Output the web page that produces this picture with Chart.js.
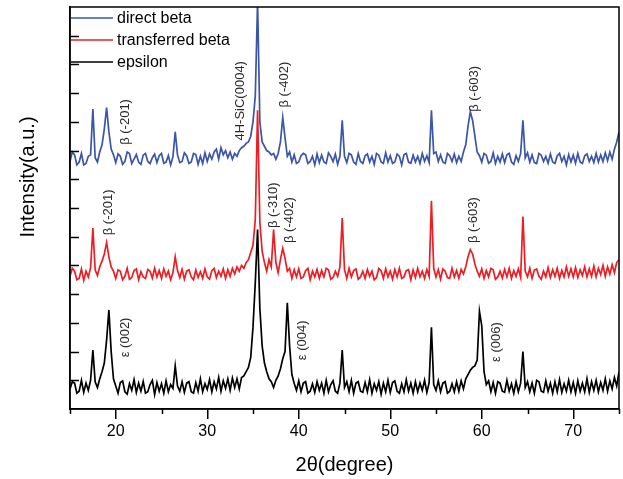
<!DOCTYPE html>
<html>
<head>
<meta charset="utf-8">
<script src="https://cdn.jsdelivr.net/npm/chart.js@4/dist/chart.umd.min.js"></script>
<style>
  html, body { margin: 0; padding: 0; background: #fff; }
  #xrd { display: block; }
</style>
</head>
<body>
<canvas id="xrd" width="623" height="479"></canvas>
<script>
// 2theta grid: 15 .. 75 deg, one reading every 0.25 deg
const startAngle = 15
const angleStep = 0.25

// intensities (a.u., curves already offset)
const directBeta = [
  8.62, 8.95, 8.85, 8.5, 8.6, 8.9, 8.5, 8.55, 8.8, 8.85,
  10.45, 8.75, 8.6, 8.95, 9.2, 9.75, 10.5, 9.65, 9.05, 8.85,
  8.58, 8.88, 8.8, 8.52, 8.62, 8.95, 8.9, 8.55, 8.7, 8.86,
  8.6, 8.52, 8.84, 8.9, 8.62, 8.55, 8.75, 8.88, 8.58, 8.82,
  8.9, 8.56, 8.6, 8.83, 8.5, 8.78, 9.65, 8.85, 8.58, 8.62,
  8.92, 8.82, 8.55, 8.6, 8.9, 8.86, 8.52, 8.8, 8.55, 8.92,
  8.62, 8.88, 8.7, 8.95, 9.05, 8.7, 9.1, 8.85, 9.0, 8.75,
  8.95, 8.7, 8.9, 8.8, 9.0, 9.1, 9.15, 9.25, 9.3, 9.5,
  10.0, 10.9, 14.2, 10.0, 9.3, 9.15, 9.0, 8.95, 8.85, 8.9,
  8.7, 8.9, 9.3, 10.15, 9.45, 8.8, 8.95, 8.6, 8.85, 8.55,
  8.6, 8.82, 8.9, 8.85, 8.55, 8.62, 8.8, 8.5, 8.88, 8.58,
  8.84, 8.6, 8.55, 8.92, 8.8, 8.62, 8.88, 8.52, 8.8, 10.05,
  8.8, 8.58, 8.9, 8.85, 8.6, 8.52, 8.9, 8.62, 8.55, 8.82,
  8.88, 8.6, 8.8, 8.52, 8.9, 8.84, 8.6, 8.55, 8.92, 8.6,
  8.82, 8.55, 8.6, 8.88, 8.8, 8.5, 8.86, 8.9, 8.6, 8.56,
  8.84, 8.6, 8.8, 8.55, 8.9, 8.62, 8.82, 8.58, 10.4, 8.9,
  8.95, 8.62, 8.85, 8.6, 8.55, 8.9, 8.82, 8.62, 8.88, 8.58,
  8.8, 8.62, 8.95, 9.2, 9.85, 10.35, 10.05, 9.5, 8.95, 8.82,
  8.6, 8.9, 8.84, 8.56, 8.62, 8.92, 8.55, 8.8, 8.6, 8.88,
  8.58, 8.85, 8.9, 8.6, 8.52, 8.82, 8.62, 8.9, 10.05, 8.75,
  8.92, 8.6, 8.85, 8.58, 8.55, 8.9, 8.84, 8.62, 8.8, 8.56,
  8.88, 8.6, 8.55, 8.82, 8.9, 8.62, 8.8, 8.5, 8.86, 8.6,
  8.84, 8.56, 8.9, 8.6, 8.55, 8.82, 8.88, 8.62, 8.8, 8.58,
  8.9, 8.6, 8.85, 8.62, 8.92, 8.65, 8.95, 8.7, 9.05, 9.3,
  9.65
]

const transferredBeta = [
  4.62, 4.9, 4.8, 4.5, 4.55, 4.88, 4.48, 4.8, 4.6, 4.92,
  6.3, 4.85, 4.65, 4.95, 5.15, 5.4, 5.8, 5.3, 4.95, 4.8,
  4.55, 4.85, 4.8, 4.5, 4.62, 4.9, 4.52, 4.58, 4.82, 4.88,
  4.5, 4.78, 4.6, 4.55, 4.86, 4.8, 4.56, 4.9, 4.6, 4.82,
  4.55, 4.88, 4.62, 4.8, 4.5, 4.75, 5.3, 4.82, 4.58, 4.86,
  4.52, 4.8, 4.85, 4.6, 4.5, 4.84, 4.58, 4.78, 4.55, 4.88,
  4.6, 4.52, 4.82, 4.9, 4.58, 4.8, 4.62, 4.88, 4.55, 4.85,
  4.62, 4.9, 4.7, 4.95, 4.8, 5.0, 4.9, 5.1, 5.2, 5.45,
  5.7, 6.6, 10.4, 6.5, 5.5, 5.1, 4.8, 5.2, 4.95, 6.25,
  5.1, 4.75, 5.2, 5.6, 5.25, 4.8, 4.9, 4.55, 4.85, 4.6,
  4.88, 4.55, 4.6, 4.82, 4.9, 4.5, 4.8, 4.6, 4.86, 4.55,
  4.82, 4.6, 4.9, 4.85, 4.52, 4.58, 4.8, 4.62, 4.95, 6.65,
  4.85, 4.55, 4.9, 4.6, 4.82, 4.88, 4.52, 4.6, 4.8, 4.55,
  4.86, 4.62, 4.8, 4.5, 4.58, 4.9, 4.82, 4.55, 4.88, 4.6,
  4.8, 4.52, 4.86, 4.6, 4.9, 4.55, 4.6, 4.82, 4.85, 4.5,
  4.84, 4.58, 4.9, 4.6, 4.8, 4.55, 4.86, 4.62, 7.25, 4.9,
  4.6, 4.85, 4.52, 4.88, 4.8, 4.58, 4.55, 4.9, 4.6, 4.82,
  4.55, 4.86, 4.7, 4.95, 5.3, 5.55, 5.4, 5.05, 4.8, 4.62,
  4.88, 4.55, 4.82, 4.6, 4.9, 4.85, 4.52, 4.6, 4.8, 4.56,
  4.86, 4.6, 4.9, 4.55, 4.82, 4.62, 4.88, 4.58, 6.7, 4.8,
  4.6, 4.9, 4.55, 4.84, 4.88, 4.62, 4.52, 4.8, 4.6, 4.92,
  4.58, 4.85, 4.62, 4.9, 4.55, 4.82, 4.6, 4.95, 4.62, 4.88,
  4.6, 4.92, 4.58, 4.85, 4.65, 4.95, 4.6, 4.88, 4.62, 4.98,
  4.6, 4.9, 4.68, 5.0, 4.62, 4.95, 4.7, 5.02, 4.75, 5.1,
  5.2
]

const epsilon = [
  0.7, 0.95, 0.9, 0.55, 0.62, 1.0, 0.58, 0.9, 0.65, 1.0,
  2.05, 0.95, 0.75, 1.05, 1.3, 1.6, 2.4, 3.45, 2.0, 1.05,
  0.8, 0.55, 0.92, 0.98, 0.6, 0.52, 0.88, 0.65, 1.02, 0.58,
  0.9, 0.62, 0.96, 0.55, 0.6, 0.85, 1.0, 0.5, 0.92, 0.62,
  0.88, 0.55, 0.98, 0.6, 0.85, 0.72, 1.5, 0.8, 0.62, 0.95,
  0.58, 0.9, 0.95, 0.6, 0.55, 0.92, 0.62, 1.05, 0.6, 0.88,
  0.68, 1.02, 0.6, 0.95, 0.7, 1.1, 0.62, 0.98, 0.72, 1.05,
  0.65, 1.08, 0.75, 1.05, 0.7, 1.1, 1.15, 1.3, 1.45, 1.8,
  2.85, 4.4, 6.25, 3.5, 2.2, 1.6, 1.3, 1.05, 0.95, 0.75,
  1.0, 1.15, 1.4, 1.75, 2.0, 3.7, 2.2, 1.2, 0.9, 0.65,
  0.98, 0.6, 0.9, 0.95, 0.55, 0.62, 0.88, 0.58, 0.95, 0.65,
  0.9, 0.55, 1.0, 0.6, 0.85, 0.98, 0.62, 0.55, 0.9, 2.05,
  0.75, 0.95, 0.6, 1.0, 0.55, 0.9, 0.95, 0.62, 0.58, 0.92,
  0.6, 1.02, 0.55, 0.88, 0.65, 0.95, 0.52, 0.9, 0.6, 1.0,
  0.58, 0.92, 0.98, 0.62, 0.55, 0.88, 0.6, 1.02, 0.62, 0.9,
  0.55, 0.95, 0.6, 0.9, 0.65, 1.0, 0.58, 0.92, 2.85, 0.85,
  0.65, 0.98, 0.6, 0.9, 0.95, 0.55, 0.62, 0.88, 0.6, 0.95,
  0.62, 0.98, 0.7, 1.05, 1.2, 1.35, 1.45, 1.5, 1.7, 3.4,
  2.9, 1.3, 0.85, 0.98, 0.6, 0.92, 0.55, 0.95, 0.9, 0.62,
  0.58, 1.0, 0.62, 0.88, 0.55, 0.95, 0.6, 0.9, 2.0, 0.75,
  0.95, 0.6, 0.9, 0.55, 1.0, 0.95, 0.62, 0.58, 0.98, 0.62,
  0.9, 0.55, 0.95, 0.6, 1.02, 0.58, 0.88, 0.62, 1.0, 0.6,
  0.92, 0.55, 0.98, 0.62, 0.9, 0.6, 1.05, 0.58, 0.95, 0.65,
  1.0, 0.6, 0.92, 0.65, 1.05, 0.62, 0.98, 0.7, 1.1, 0.8,
  1.3
]

const seriesNames = ['direct beta', 'transferred beta', 'epsilon']
const seriesColors = ['#3b55a8', '#ee1d24', '#000000']

const xTickLabels = [20, 30, 40, 50, 60, 70]
const xMinorTicks = [15, 25, 35, 45, 55, 65, 75]
const yTickMarks = [1, 2, 3, 4, 5, 6, 7, 8, 9, 10, 11, 12, 13]

// peak labels: [text, 2theta, intensity where the text starts]
const peakLabels = [
  ['β (-201)', 21.1, 9.2],
  ['4H-SiC(0004)', 33.6, 9.35],
  ['β (-402)', 38.4, 10.5],
  ['β (-603)', 59.15, 10.35],
  ['β (-201)', 19.15, 6.05],
  ['β (-310)', 37.2, 6.3],
  ['β (-402)', 39.0, 5.78],
  ['β (-603)', 59.05, 5.78],
  ['ε (002)', 21.1, 1.8],
  ['ε (004)', 40.45, 1.7],
  ['ε (006)', 61.55, 1.64]
]

const FONT = '"Liberation Sans", Arial, sans-serif'

const toPoints = (vals) => vals.map((v, i) => ({ x: startAngle + i * angleStep, y: v }))

const frameAndMarks = {
  id: 'frameAndMarks',
  afterDatasetsDraw(chart) {
    const ctx = chart.ctx
    const a = chart.chartArea
    const xs = chart.scales.x
    const ys = chart.scales.y
    ctx.save()

    // peak labels, rotated
    ctx.fillStyle = '#2a2a2a'
    ctx.font = '13px ' + FONT
    ctx.textAlign = 'left'
    ctx.textBaseline = 'middle'
    peakLabels.forEach(([txt, deg, val]) => {
      ctx.save()
      ctx.translate(xs.getPixelForValue(deg), ys.getPixelForValue(val))
      ctx.rotate(-Math.PI / 2)
      ctx.fillText(txt, 0, 0)
      ctx.restore()
    })

    // box
    ctx.strokeStyle = '#000'
    ctx.lineWidth = 1.5
    ctx.strokeRect(a.left, a.top, a.right - a.left, a.bottom - a.top)

    // inward y ticks
    ctx.beginPath()
    yTickMarks.forEach(v => {
      const y = Math.round(ys.getPixelForValue(v)) + 0.5
      ctx.moveTo(a.left, y)
      ctx.lineTo(a.left + 9, y)
    })
    // short x ticks
    xMinorTicks.forEach(v => {
      const x = Math.round(xs.getPixelForValue(v)) + 0.5
      ctx.moveTo(x, a.bottom)
      ctx.lineTo(x, a.bottom + 5)
    })
    ctx.stroke()

    // legend
    chart.data.datasets.forEach((ds, i) => {
      const y = 18 + i * 22
      ctx.strokeStyle = ds.borderColor
      ctx.lineWidth = 1.5
      ctx.beginPath()
      ctx.moveTo(a.left + 1, y)
      ctx.lineTo(113, y)
      ctx.stroke()
      ctx.fillStyle = '#000'
      ctx.font = '16px ' + FONT
      ctx.textAlign = 'left'
      ctx.textBaseline = 'middle'
      ctx.fillText(ds.label, 117, y + 1)
    })

    // y title
    ctx.save()
    ctx.translate(28, 177)
    ctx.rotate(-Math.PI / 2)
    ctx.fillStyle = '#000'
    ctx.font = '20px ' + FONT
    ctx.textAlign = 'center'
    ctx.textBaseline = 'middle'
    ctx.fillText('Intensity(a.u.)', 0, 0)
    ctx.restore()

    ctx.restore()
  }
}

const seriesValues = [directBeta, transferredBeta, epsilon]

const xrdChart = new Chart(document.getElementById('xrd'), {
  type: 'line',
  data: {
    datasets: seriesValues.map((vals, i) => ({
      label: seriesNames[i],
      data: toPoints(vals),
      borderColor: seriesColors[i],
      borderWidth: 1.7,
      pointRadius: 0,
      tension: 0,
      fill: false,
      order: 3 - i
    }))
  },
  options: {
    responsive: false,
    animation: false,
    devicePixelRatio: 1,
    layout: { padding: { top: 7, right: 4, left: 0, bottom: 0 } },
    plugins: {
      legend: { display: false },
      tooltip: { enabled: false }
    },
    scales: {
      x: {
        type: 'linear',
        min: 15,
        max: 75,
        afterBuildTicks: (s) => { s.ticks = xTickLabels.map(v => ({ value: v })) },
        afterFit: (s) => { s.height = 70 },
        ticks: {
          color: '#000',
          font: { family: FONT, size: 16 },
          padding: 3,
          maxRotation: 0,
          autoSkip: false
        },
        grid: {
          display: true,
          drawOnChartArea: false,
          drawTicks: true,
          tickLength: 10,
          color: '#000',
          lineWidth: 1.5
        },
        border: { display: true, color: '#000', width: 1.5 },
        title: {
          display: true,
          text: '2θ(degree)',
          color: '#000',
          font: { family: FONT, size: 20 },
          padding: { top: 0, bottom: 2 }
        }
      },
      y: {
        type: 'linear',
        min: 0,
        max: 14,
        afterFit: (s) => { s.width = 70 },
        ticks: { display: false },
        grid: { display: false },
        border: { display: true, color: '#000', width: 1.5 }
      }
    }
  },
  plugins: [frameAndMarks]
})
</script>
</body>
</html>
